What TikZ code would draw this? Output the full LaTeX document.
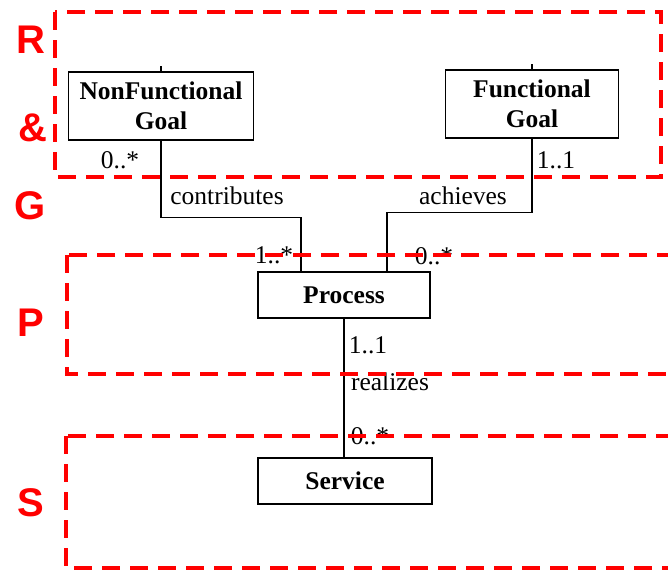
\documentclass[tikz,border=0pt]{standalone}
\usepackage{fontspec}
\setmainfont{Liberation Serif}
\newfontfamily\layerfont{Liberation Sans}
\begin{document}
\begin{tikzpicture}[x=1pt,y=-1pt,
  cls/.style={draw,line width=1.6pt,font=\fontsize{25.5}{30.5}\selectfont\bfseries,align=center,inner sep=0pt},
  layer/.style={red,line width=4pt,dash pattern=on 18pt off 10pt},
  layername/.style={red,font=\fontsize{40}{40}\selectfont\layerfont\bfseries},
  lbl/.style={font=\fontsize{25.5}{25.5}\selectfont,inner sep=0pt},
  assoc/.style={line width=1.2pt}]
 \useasboundingbox (0,0) rectangle (668,573);
 \clip (0,0) rectangle (668,573);
 % classes
 \node[cls,minimum width=185pt,minimum height=68pt] (nfg) at (161,106) {NonFunctional\\Goal};
 \node[cls,minimum width=173pt,minimum height=68pt] (fg) at (532,104) {Functional\\Goal};
 \node[cls,minimum width=172pt,minimum height=46pt] (proc) at (344,295) {Process};
 \node[cls,minimum width=174pt,minimum height=46pt] (serv) at (345,481) {Service};
 \draw[assoc] (nfg.north) -- ++(0,-5);
 \draw[assoc] (fg.north) -- ++(0,-5);
 % associations
 \draw[assoc] (nfg.south) -- ++(0,77) -| ([xshift=-43pt]proc.north);
 \draw[assoc] (fg.south) -- ++(0,74) -| ([xshift=43pt]proc.north);
 \draw[assoc] (proc.south) -- (proc.south |- serv.north);
 \node[lbl] (m1) at (120,160) {0..*};
 \node[lbl] (a1) at (227,196) {contributes};
 \node[lbl] (m2) at (556,160) {1..1};
 \node[lbl] (a2) at (463,196) {achieves};
 \node[lbl] (m3) at (274,255) {1..*};
 \node[lbl] (m4) at (434,256) {0..*};
 \node[lbl] (m5) at (368,345) {1..1};
 \node[lbl] (a3) at (390,382) {realizes};
 \node[lbl] (m6) at (370,436) {0..*};
 % layers
 \draw[layer] (55,12) rectangle (661,177);
 \draw[layer] (67,255) rectangle (700,374);
 \draw[layer] (66,436) rectangle (700,568);
 \node[layername] (r) at (31,40) {R};
 \node[layername] (amp) at (33,128) {\&};
 \node[layername] (g) at (30,206) {G};
 \node[layername] (p) at (31,323) {P};
 \node[layername] (s) at (31,503) {S};
\end{tikzpicture}
\end{document}
